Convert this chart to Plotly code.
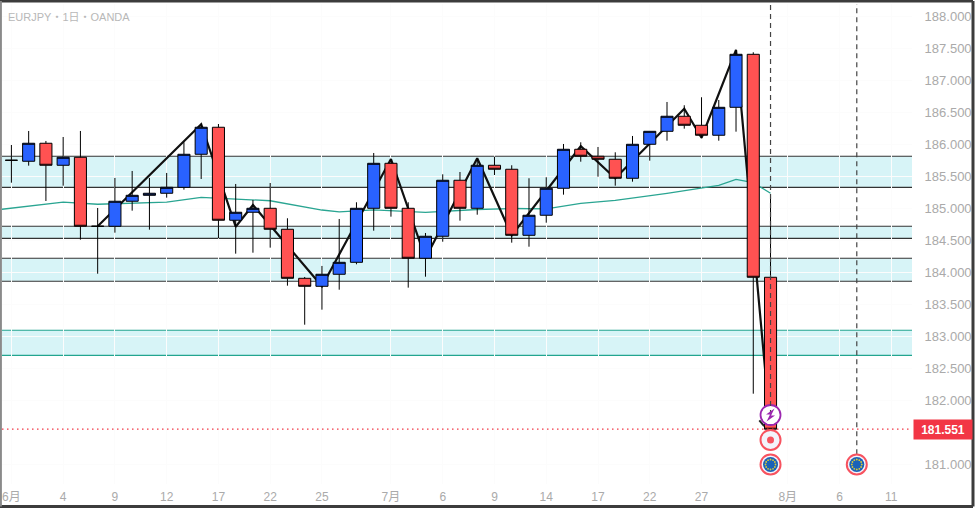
import numpy as np
import plotly.graph_objects as go

opens = [185.753, 185.738, 186.019, 185.675, 185.800, 184.722, 184.722, 185.113, 185.206, 185.238,
         185.331, 185.847, 186.269, 184.816, 184.941, 185.003, 184.675, 183.909, 183.784, 183.972,
         184.159, 185.003, 185.706, 185.003, 184.222, 184.566, 185.441, 185.003, 185.675, 185.613,
         184.581, 184.894, 185.316, 185.925, 185.816, 185.769, 185.472, 186.003, 186.206, 186.441,
         186.300, 186.144, 186.581, 187.409, 183.925]
highs = [185.992, 186.211, 186.055, 186.117, 186.211, 185.008, 185.477, 185.586, 185.477, 185.555,
         186.034, 186.316, 186.320, 185.383, 185.133, 185.398, 184.847, 183.930, 184.102, 184.836,
         185.097, 185.867, 185.773, 185.097, 184.617, 185.534, 185.570, 185.784, 185.809, 185.675,
         185.472, 185.488, 186.008, 186.034, 185.961, 185.878, 186.133, 186.206, 186.664, 186.613,
         186.738, 186.695, 187.477, 187.441, 185.184]
lows = [185.403, 185.669, 185.117, 185.356, 184.513, 183.981, 184.622, 184.966, 184.669, 185.169,
        185.294, 185.461, 184.534, 184.294, 184.309, 184.388, 183.794, 183.184, 183.419, 183.731,
        184.128, 184.653, 184.872, 183.763, 183.934, 184.481, 184.809, 184.903, 185.523, 184.466,
        184.403, 184.778, 185.216, 185.731, 185.497, 185.356, 185.419, 185.747, 186.059, 186.247,
        186.097, 186.059, 186.200, 182.106, 181.540]
closes = [185.753, 186.019, 185.675, 185.800, 184.722, 184.722, 185.113, 185.206, 185.238, 185.331,
          185.847, 186.269, 184.816, 184.941, 185.003, 184.675, 183.909, 183.784, 183.972, 184.159,
          185.003, 185.706, 185.003, 184.222, 184.566, 185.441, 185.003, 185.675, 185.613, 184.581,
          184.894, 185.316, 185.925, 185.816, 185.769, 185.472, 186.003, 186.206, 186.441, 186.300,
          186.144, 186.581, 187.409, 183.925, 181.551]

zigzag_x = [5, 11, 13, 14, 18, 22, 24, 27, 29, 33, 35, 39, 40, 42, 44]
zigzag_y = [184.722, 186.316, 184.715, 185.055, 183.784, 185.773, 184.222, 185.784, 184.581, 185.973,
            185.472, 186.559, 186.105, 187.477, 181.551]
stub_x = [43.35, 43.63]
stub_y = [181.69, 181.60]

ema_x = [-1, 3, 5, 7, 9, 11, 13, 15, 18, 19, 21, 24, 27, 29, 31, 33, 35, 38, 41, 42, 43, 44]
ema_y = [184.974, 185.100, 185.066, 185.082, 185.100, 185.175, 185.144, 185.121, 184.976, 184.947,
         184.977, 184.939, 184.984, 185.000, 184.995, 185.080, 185.127, 185.237, 185.362, 185.456,
         185.403, 185.237]

# price zones: top, bottom, edge colour
zone_top = [185.816, 184.722, 184.222, 183.097]
zone_bottom = [185.331, 184.534, 183.863, 182.706]
zone_edge = ["#333333", "#333333", "#333333", "#22a58f"]

# 181.500 sits under the last price tag on the original, so it is left out
y_ticks = [181.0, 182.0, 182.5, 183.0, 183.5, 184.0, 184.5, 185.0, 185.5, 186.0, 186.5,
           187.0, 187.5, 188.0]
x_ticks = [0, 3, 6, 9, 12, 15, 18, 22, 25, 28, 31, 34, 37, 40, 45, 48, 51]
x_labels = ["6月", "4", "9", "12", "17", "22", "25", "7月", "6", "9", "14", "17", "22", "27",
            "8月", "6", "11"]

last_price = 181.551
event_x = [44, 49]
event_top = 188.2
bolt_price = 181.773
dot_price = 181.383
flag_price = 181.0

GREY = "#aaaaaa"
FONT = "Liberation Sans"
PX_PER_BAR = 17.25
PX_PER_UNIT = 64.0

fig = go.Figure()

fig.add_trace(go.Scatter(x=ema_x, y=ema_y, mode="lines", zorder=-1,
                         line=dict(color="#2aa592", width=1.3)))
fig.add_trace(go.Scatter(x=zigzag_x, y=zigzag_y, mode="lines", zorder=-1,
                         line=dict(color="#111111", width=2.2)))
fig.add_trace(go.Candlestick(
    x=list(range(len(opens))), open=opens, high=highs, low=lows, close=closes,
    whiskerwidth=0,
    increasing=dict(fillcolor="#2962ff", line=dict(color="#000000", width=1)),
    decreasing=dict(fillcolor="#ff5252", line=dict(color="#000000", width=1)),
))

fig.add_trace(go.Scatter(x=stub_x, y=stub_y, mode="lines", zorder=1,
                         line=dict(color="#222222", width=2)))

# event badges
fig.add_trace(go.Scatter(x=[event_x[0]], y=[bolt_price], mode="markers", zorder=2,
                         marker=dict(size=20, color="#ffffff", line=dict(color="#9c27b0", width=1.8))))
fig.add_trace(go.Scatter(x=[event_x[0]], y=[dot_price], mode="markers", zorder=2,
                         marker=dict(size=20, color="#f3f3fb", line=dict(color="#f7525f", width=2))))
fig.add_trace(go.Scatter(x=[event_x[0]], y=[dot_price], mode="markers", zorder=2,
                         marker=dict(size=7, color="#f7525f")))
fig.add_trace(go.Scatter(x=event_x, y=[flag_price, flag_price], mode="markers", zorder=2,
                         marker=dict(size=20, color="#f3f3fb", line=dict(color="#f7525f", width=2))))
fig.add_trace(go.Scatter(x=event_x, y=[flag_price, flag_price], mode="markers", zorder=2,
                         marker=dict(size=15, color="#1a62b8")))
# the ring of stars on the EU badges
angles = np.arange(12) * np.pi / 6
for ex in event_x:
    fig.add_trace(go.Scatter(x=ex + 5.0 * np.cos(angles) / PX_PER_BAR,
                             y=flag_price + 5.0 * np.sin(angles) / PX_PER_UNIT,
                             mode="markers", zorder=3,
                             marker=dict(size=1.8, color="#d9c83a")))

# event lines, they run over the top half of the bolt badge
fig.add_trace(go.Scatter(x=[event_x[0], event_x[0]], y=[bolt_price, event_top], mode="lines", zorder=3,
                         line=dict(color="#444444", width=1.2, dash="5px,4px")))
fig.add_trace(go.Scatter(x=[event_x[1], event_x[1]], y=[flag_price + 0.16, event_top], mode="lines", zorder=1,
                         line=dict(color="#444444", width=1.2, dash="5px,4px")))

shapes = []
for top, bottom, edge in zip(zone_top, zone_bottom, zone_edge):
    shapes.append(dict(type="rect", xref="paper", x0=0, x1=1, yref="y", y0=bottom, y1=top,
                       fillcolor="#d7f4f7", line_width=0, layer="below"))
    for level in (top, bottom):
        shapes.append(dict(type="line", xref="paper", x0=0, x1=1, yref="y", y0=level, y1=level,
                           line=dict(color=edge, width=1.2), layer="below"))
shapes.append(dict(type="line", xref="paper", x0=0, x1=1, yref="y", y0=last_price, y1=last_price,
                   line=dict(color="#f23645", width=1.2, dash="1.5px,3.5px")))

# lightning bolt inside the purple badge
shapes.append(dict(type="path", xref="x", yref="y", xsizemode="pixel", ysizemode="pixel",
                   xanchor=event_x[0], yanchor=bolt_price,
                   path="M 4,6.5 L -4.5,0.5 L -0.5,0.5 L -4,-6.5 L 4.5,-0.5 L 0.5,-0.5 Z",
                   fillcolor="#9c27b0", line_width=0))

# window frame, in paper units of the 910x480 plot area
frame_l, frame_r = -2 / 910, 973 / 910 - 2 / 910
frame_t, frame_b = 483 / 480, -22.5 / 480
shapes.append(dict(type="line", xref="paper", yref="paper", x0=frame_l, x1=frame_r, y0=frame_t, y1=frame_t,
                   line=dict(color="#3c3c3c", width=3)))
shapes.append(dict(type="line", xref="paper", yref="paper", x0=frame_l, x1=frame_r, y0=frame_b, y1=frame_b,
                   line=dict(color="#3c3c3c", width=3)))
shapes.append(dict(type="line", xref="paper", yref="paper", x0=frame_r, x1=frame_r, y0=frame_b, y1=frame_t,
                   line=dict(color="#3c3c3c", width=3)))
shapes.append(dict(type="line", xref="paper", yref="paper", x0=frame_l + 0.001, x1=frame_l + 0.001, y0=frame_b, y1=frame_t,
                   line=dict(color="#8a8a8a", width=2)))

fig.update_layout(
    width=975,
    height=508,
    margin=dict(l=2, r=63, t=4, b=24),
    paper_bgcolor="#ffffff",
    plot_bgcolor="#ffffff",
    showlegend=False,
    boxgap=0,
    boxgroupgap=0.3,
    shapes=shapes,
    font=dict(family=FONT, size=12, color=GREY),
    annotations=[
        dict(text="EURJPY・1日・OANDA", xref="paper", yref="paper", x=0, y=1, xshift=4, yshift=-5,
             xanchor="left", yanchor="top", showarrow=False,
             font=dict(family="Liberation Sans, Noto Sans CJK JP", size=11, color="#b8b8b8")),
        dict(text="<b>181.551</b>", xref="paper", yref="y", x=1, y=last_price, xshift=1,
             xanchor="left", yanchor="middle", showarrow=False, width=56, height=17,
             bgcolor="#f23645", font=dict(family=FONT, size=12, color="#ffffff")),
    ],
)
fig.update_xaxes(
    range=[-0.545, 52.2], rangeslider_visible=False, showgrid=True, gridcolor="#fcfcfc", zeroline=False,
    tickmode="array", tickvals=x_ticks, ticktext=x_labels, ticks="outside", ticklen=2, tickcolor="#ffffff",
    showline=False, tickfont=dict(family="Liberation Sans, Noto Sans CJK JP", size=12, color=GREY),
)
fig.update_yaxes(
    range=[180.695, 188.195], side="right", showgrid=True, gridcolor="#fcfcfc", zeroline=False,
    tickmode="array", tickvals=y_ticks, ticktext=["%.3f" % t for t in y_ticks],
    ticks="outside", ticklen=9, tickcolor="#ffffff", showline=False,
    tickfont=dict(family=FONT, size=13, color=GREY),
)

fig.write_html("out.html", config=dict(displayModeBar=False), post_script="document.body.style.margin='0';")
